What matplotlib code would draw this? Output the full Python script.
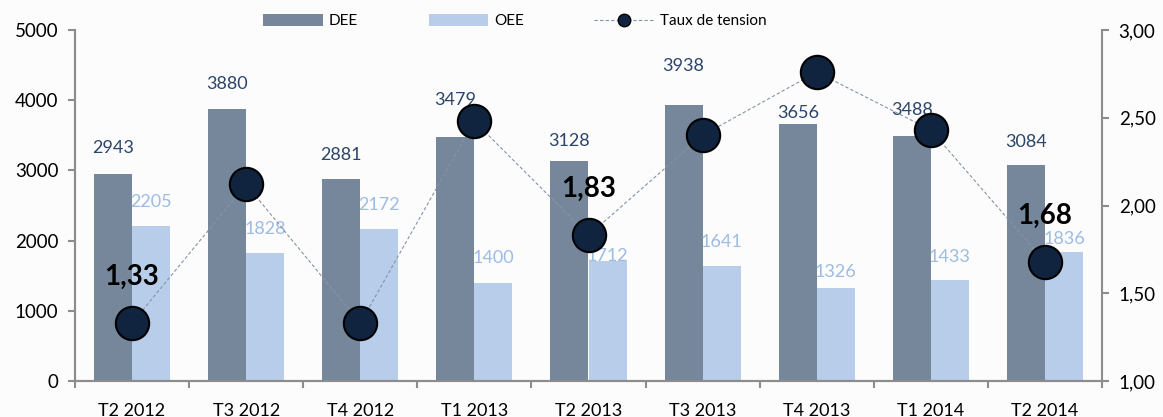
"""
DEE / OEE bar chart with the "taux de tension" ratio on a second axis.
"""

import matplotlib

matplotlib.use("Agg")
import matplotlib.pyplot as plt
from matplotlib.lines import Line2D
from matplotlib.patches import Patch
from matplotlib.ticker import FuncFormatter

plt.rcParams["font.family"] = ["Lato", "DejaVu Sans"]

# data
quarters = ["T2 2012", "T3 2012", "T4 2012", "T1 2013", "T2 2013",
            "T3 2013", "T4 2013", "T1 2014", "T2 2014"]
dee = [2943, 3880, 2881, 3479, 3128, 3938, 3656, 3488, 3084]
oee = [2205, 1828, 2172, 1400, 1712, 1641, 1326, 1433, 1836]
taux = [1.33, 2.12, 1.33, 2.48, 1.83, 2.40, 2.76, 2.43, 1.68]
# only these ratio points carry a label in the original
taux_labelled = [0, 4, 8]

# label nudges above the bar top, in pixels (hand placed in the source)
dee_label_gap = [26, 25, 24, 37, 20, 39, 11, 26, 23]
oee_label_gap = [24, 24, 24, 25, 5, 24, 16, 23, 13]

DARK = "#77879b"
LIGHT = "#b8cde9"
DARK_TXT = "#2b4468"
LIGHT_TXT = "#9dbce2"
AXIS = "#8c8c8c"
BG = "#fcfcfc"
PX = 0.72  # points per pixel at dpi 100

fig = plt.figure(figsize=(11.63, 4.17), dpi=100, facecolor=BG)
ax = fig.add_axes([75 / 1163, 1 - 381 / 417, 1027 / 1163, 351 / 417])
ax.set_facecolor(BG)
ax2 = ax.twinx()

x = list(range(len(quarters)))
w = 1 / 3
ax.bar([i - w / 2 for i in x], dee, width=w, color=DARK, zorder=2)
ax.bar([i + w / 2 for i in x], oee, width=w, color=LIGHT, zorder=2)

for i in x:
    ax.annotate(str(dee[i]), (i - w / 2, dee[i]), xytext=(0, dee_label_gap[i] * PX),
                textcoords="offset points", ha="center", va="center",
                fontsize=13, color=DARK_TXT, zorder=3)
    ax.annotate(str(oee[i]), (i + w / 2, oee[i]), xytext=(0, oee_label_gap[i] * PX),
                textcoords="offset points", ha="center", va="center",
                fontsize=13, color=LIGHT_TXT, zorder=3)

ax2.plot(x, taux, color="#8593a8", lw=0.8, ls=(0, (3, 2)), marker="o",
         markersize=24, markerfacecolor="#10233f", markeredgecolor="black",
         markeredgewidth=1.5, zorder=4)
for i in taux_labelled:
    ax2.annotate(f"{taux[i]:.2f}".replace(".", ","), (i, taux[i]),
                 xytext=(0, 46 * PX), textcoords="offset points",
                 ha="center", va="center", fontsize=20, fontweight="bold",
                 color="black", zorder=5)

# axes
ax.set_xlim(-0.5, len(quarters) - 0.5)
ax.set_ylim(0, 5000)
ax.set_yticks(range(0, 5001, 1000))
ax2.set_ylim(1, 3)
ax2.set_yticks([1.0, 1.5, 2.0, 2.5, 3.0])
ax2.yaxis.set_major_formatter(FuncFormatter(lambda v, _: f"{v:.2f}".replace(".", ",")))

ax.set_xticks(x)
ax.set_xticklabels(quarters)
ax.set_xticks([i - 0.5 for i in range(len(quarters) + 1)], minor=True)
ax.tick_params(axis="x", which="major", length=0, pad=16, labelsize=13)
ax.tick_params(axis="x", which="minor", length=5, width=1.5, color=AXIS)
ax.tick_params(axis="y", length=5, width=1.5, color=AXIS, labelsize=13.5, pad=7)
ax2.tick_params(axis="y", length=5, width=1.5, color=AXIS, labelsize=13.5, pad=7)

for a in (ax, ax2):
    a.spines["top"].set_visible(False)
    for side in ("left", "right", "bottom"):
        a.spines[side].set_color(AXIS)
        a.spines[side].set_linewidth(1.5)
ax.spines["right"].set_visible(False)

handles = [
    Patch(facecolor=DARK, edgecolor="none", label="DEE"),
    Patch(facecolor=LIGHT, edgecolor="none", label="OEE"),
    Line2D([], [], color="#8593a8", lw=0.8, ls=(0, (3, 2)), marker="o",
           markersize=9, markerfacecolor="#10233f", markeredgecolor="black",
           label="Taux de tension"),
]
fig.legend(handles=handles, loc="center", bbox_to_anchor=(515 / 1163, 1 - 21 / 417),
           ncol=3, frameon=False, fontsize=11, handlelength=3.9, handleheight=0.8,
           handletextpad=0.4, columnspacing=4.6)

fig.savefig("out.png", dpi=100, facecolor=BG)
